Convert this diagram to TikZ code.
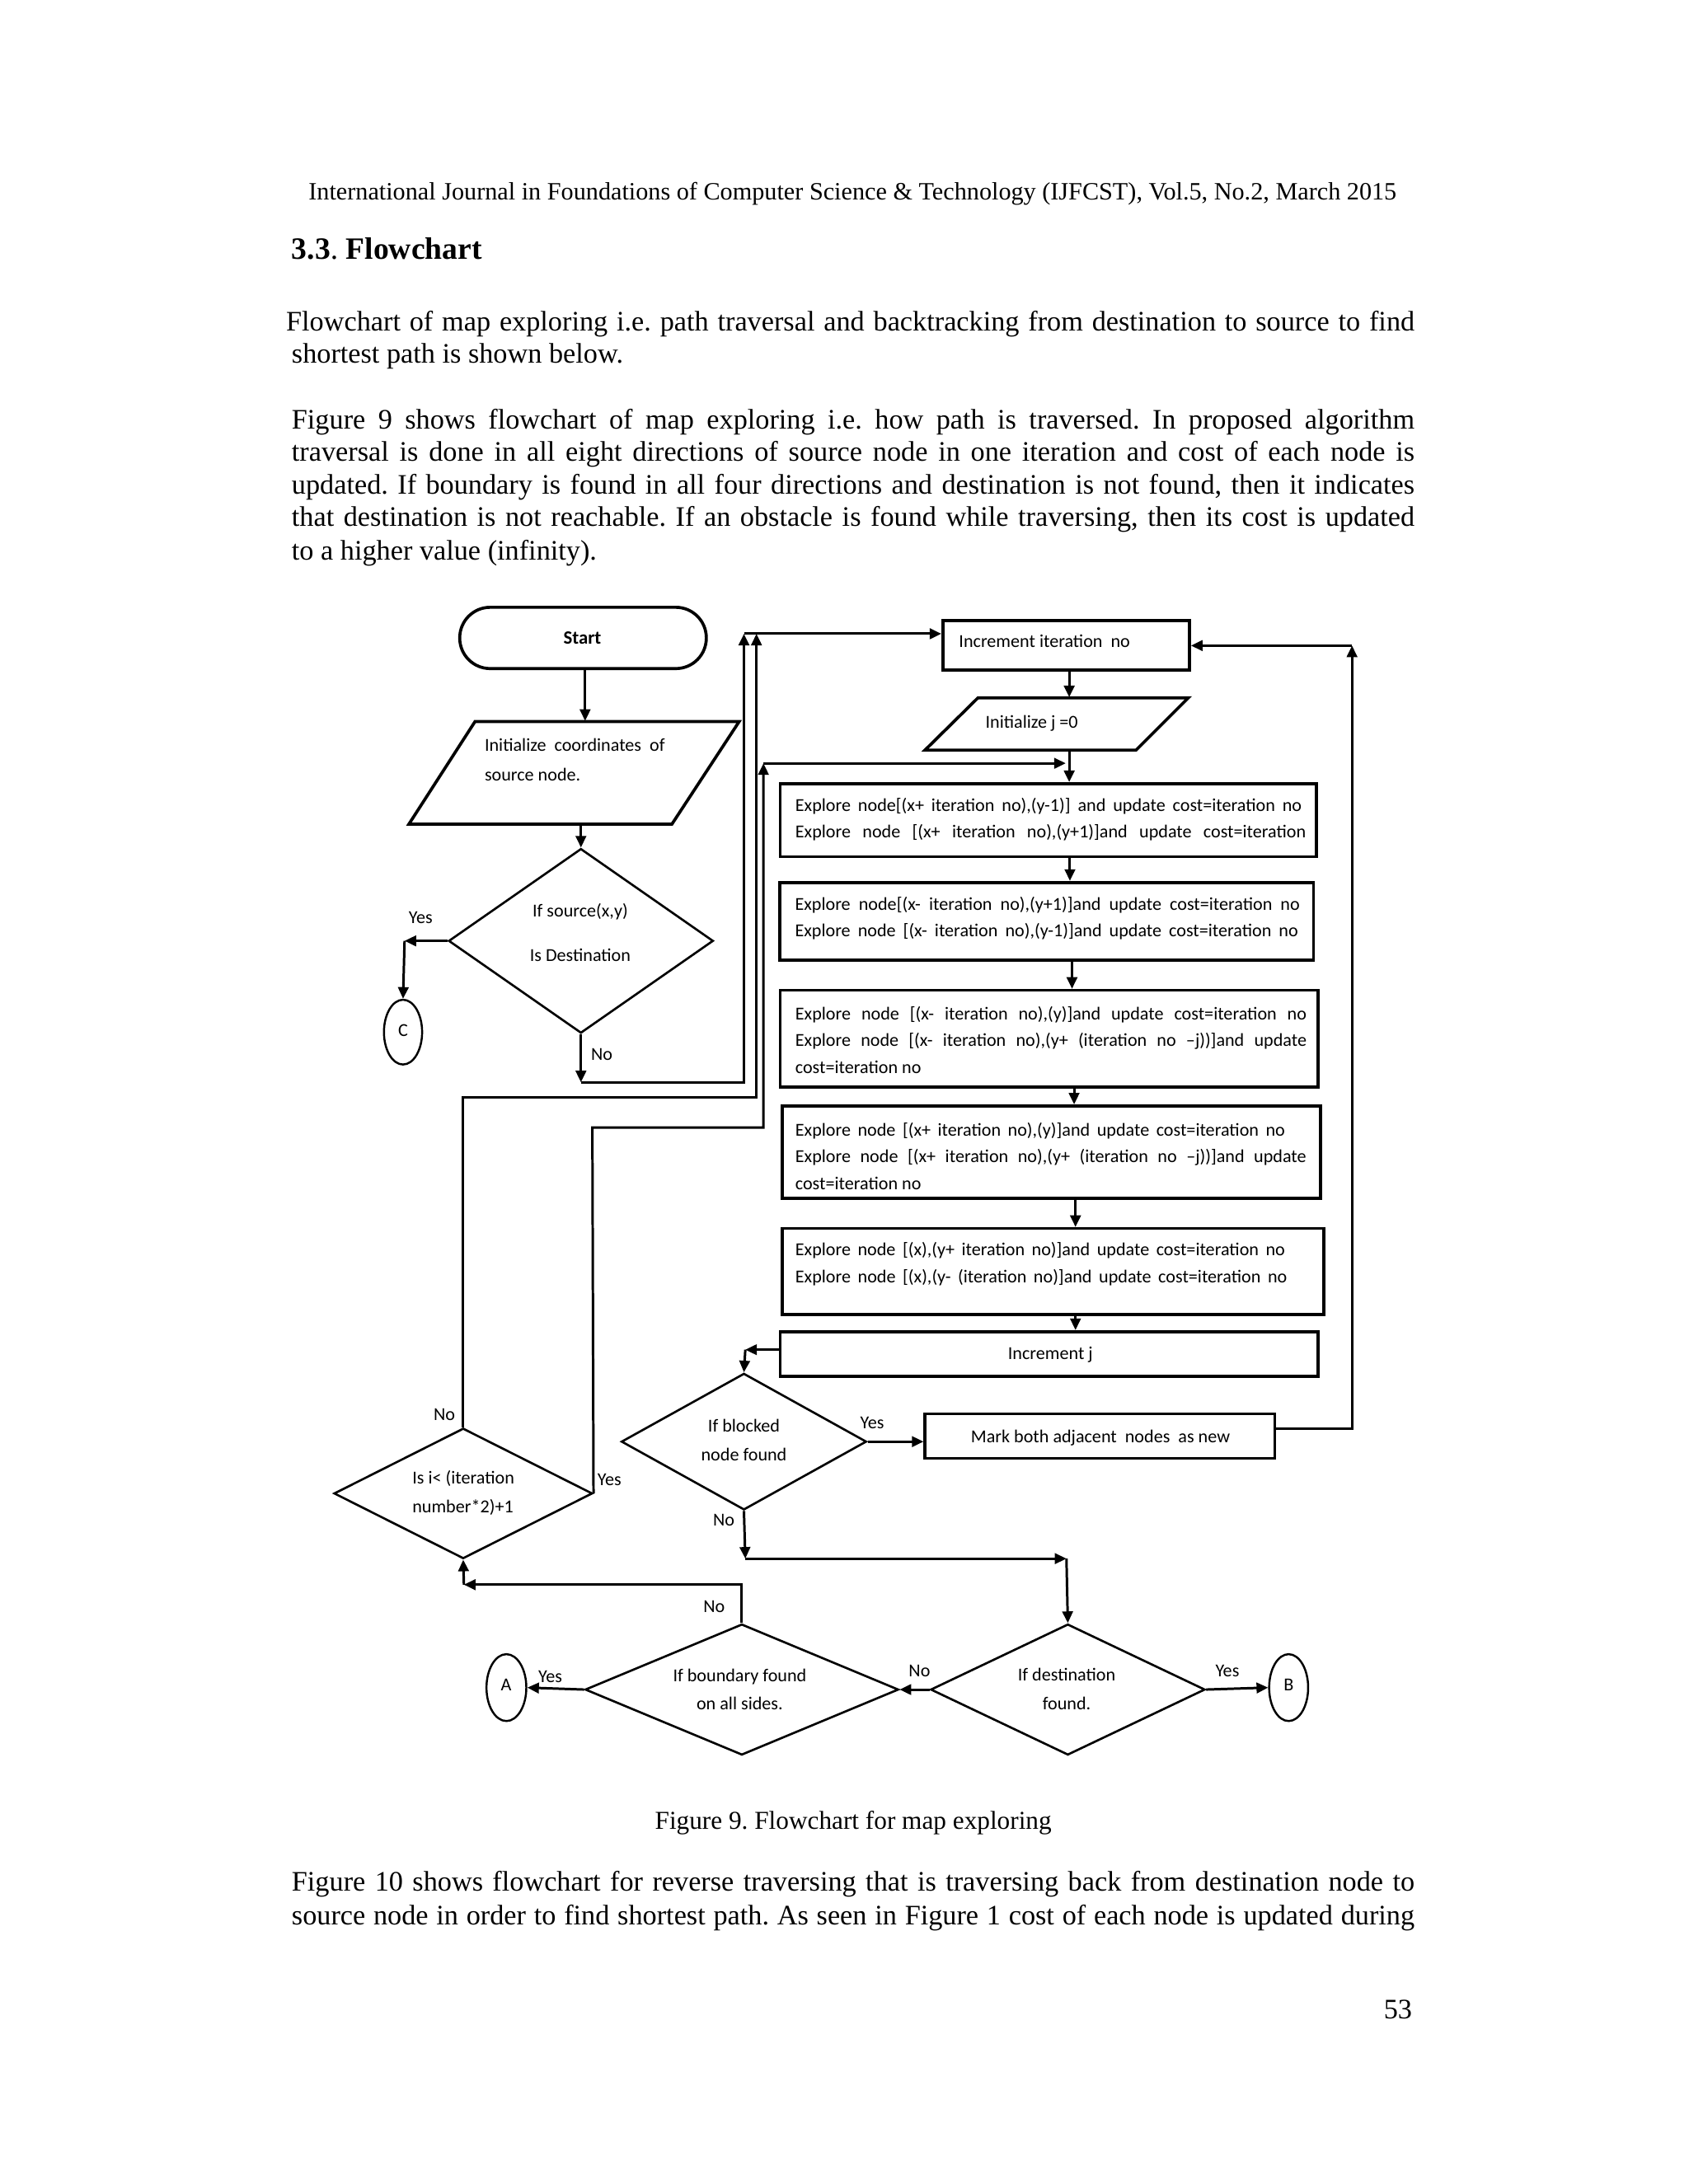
\documentclass[tikz,border=0pt]{standalone}
\usepackage{fontspec}
\setmainfont{Liberation Serif}
\newfontfamily\fcf{Carlito}
\usetikzlibrary{shapes.geometric,arrows.meta}
\frenchspacing
\newlength\jlwd
\newcommand{\jl}[2]{\pgfmathsetlength\jlwd{#1*0.0169cm}\makebox[\jlwd][s]{#2}}
\tikzset{
  sz/.style 2 args={minimum width=#1*0.0169cm, minimum height=#2*0.0169cm},
  box/.style={draw, rectangle, line width=1.05pt, inner sep=0pt},
  dia/.style={draw, diamond, line width=0.75pt, inner sep=1pt},
  ghost/.style={rectangle, inner sep=0pt},
  pgline/.style={line width=1.05pt, line join=miter},
  circ/.style={draw, ellipse, line width=0.7pt, inner sep=1pt},
  ftxt/.style={font=\fcf\fontsize{6.3}{9.3}\selectfont, inner sep=0pt, align=left},
  ctxt/.style={font=\fcf\fontsize{6.3}{9.8}\selectfont, inner sep=0pt, align=center},
  lab/.style={font=\fcf\fontsize{6.3}{7.5}\selectfont, inner sep=0pt, anchor=mid},
  arr/.style={line width=0.85pt, -{Triangle[length=4pt,width=3.6pt]}},
  bodyl/.style={font=\fontsize{9.75}{11.3}\selectfont, inner sep=0pt, anchor=mid west},
}
\begin{document}
\begin{tikzpicture}[x=0.0169cm, y=-0.0169cm]
\fill[white] (0,0) rectangle (1212,1568);
\useasboundingbox (0,0) rectangle (1212,1568);

% ---------- page text ----------
\node[bodyl, anchor=mid, font=\fontsize{8.6}{10}\selectfont] (hdr) at (612,138.5) {International Journal in Foundations of Computer Science \& Technology (IJFCST), Vol.5, No.2, March 2015};
\node[bodyl, font=\fontsize{10.7}{13}\selectfont] (sec) at (209,181.5) {\textbf{3.3}. \textbf{Flowchart}};
\node[bodyl] (p1a) at (205,233) {\jl{810}{Flowchart of map exploring i.e. path traversal and backtracking from destination to source to find}};
\node[bodyl] (p1b) at (209,256) {shortest path is shown below.};
\node[bodyl] (p2a) at (209,303) {\jl{806}{Figure 9 shows flowchart of map exploring i.e. how path is traversed. In proposed algorithm}};
\node[bodyl] (p2b) at (209,326) {\jl{806}{traversal is done in all eight directions of source node in one iteration and cost of each node is}};
\node[bodyl] (p2c) at (209,350) {\jl{806}{updated. If boundary is found in all four directions and destination is not found, then it indicates}};
\node[bodyl] (p2d) at (209,373) {\jl{806}{that destination is not reachable. If an obstacle is found while traversing, then its cost is updated}};
\node[bodyl] (p2e) at (209,397) {to a higher value (infinity).};
\node[bodyl, anchor=mid, font=\fontsize{8.9}{10.5}\selectfont] (cap) at (612.5,1308.5) {Figure 9. Flowchart for map exploring};
\node[bodyl] (p3a) at (209,1353) {\jl{806}{Figure 10 shows flowchart for reverse traversing that is traversing back from destination node to}};
\node[bodyl] (p3b) at (209,1377) {\jl{806}{source node in order to find shortest path. As seen in Figure 1 cost of each node is updated during}};
\node[bodyl, anchor=mid east] (pg) at (1014,1444.5) {53};

% ---------- flowchart shapes ----------
\node[box, rounded corners=0.37cm, sz={177}{44}] (start) at (418.5,458) {};
\node[lab, font=\fcf\bfseries\fontsize{6.5}{8}\selectfont] (startt) at (418,457.5) {Start};

% parallelogram 1 (anchor node + outline)
\node[ghost, sz={189.6}{73.7}] (p1) at (412,554.85) {};
\draw[pgline] (293.5,591.7) -- (341,518) -- (530.6,518) -- (482.3,591.7) -- cycle;
\node[ftxt, anchor=west, font=\fcf\fontsize{6.3}{10.2}\selectfont] (p1t) at (347.5,545.3) {Initialize\ \ coordinates\ \ of\\source node.};

\node[dia, sz={190}{132.5}] (d1) at (417,675.5) {};
\node[ctxt, font=\fcf\fontsize{6.3}{15.1}\selectfont] (d1t) at (416.5,669.5) {If source(x,y)\\Is Destination};

\node[circ, sz={27.4}{46.5}] (C) at (289.3,741) {};
\node[lab] (Ct) at (289.3,739) {C};

\node[box, sz={177}{35.6}] (ii) at (765.3,463.2) {};
\node[ftxt, anchor=mid west] (iit) at (688,460) {Increment iteration\ \ no};

% parallelogram 2
\node[ghost, sz={151}{37.5}] (p2) at (758.5,519.75) {};
\draw[pgline] (664,538.5) -- (702,501) -- (853,501) -- (815.5,538.5) -- cycle;
\node[lab] (p2t) at (740.6,517.8) {Initialize j =0};

\node[box, sz={385}{52.4}] (b1) at (752.5,588.8) {};
\node[ftxt, anchor=west] (b1t) at (570.5,588.3) {\jl{363.5}{Explore node[(x+ iteration no),(y-1)] and update cost=iteration no}\\\jl{366.5}{Explore node [(x+ iteration no),(y+1)]and update cost=iteration}};

\node[box, sz={383}{55.9}] (b2) at (751.3,661.45) {};
\node[ftxt, anchor=west] (b2t) at (570.3,659.3) {\jl{362.3}{Explore node[(x- iteration no),(y+1)]and update cost=iteration no}\\\jl{361.1}{Explore node [(x- iteration no),(y-1)]and update cost=iteration no}};

\node[box, sz={386}{69.5}] (b3) at (753,745.75) {};
\node[ftxt, anchor=west] (b3t) at (570.5,746.6) {\jl{367}{Explore node [(x- iteration no),(y)]and update cost=iteration no}\\\jl{367}{Explore node [(x- iteration no),(y+ (iteration no –j))]and update}\\cost=iteration no};

\node[box, sz={386.2}{66.4}] (b4) at (754.7,827.2) {};
\node[ftxt, anchor=west] (b4t) at (570.5,830) {\jl{351.5}{Explore node [(x+ iteration no),(y)]and update cost=iteration no}\\\jl{366.8}{Explore node [(x+ iteration no),(y+ (iteration no –j))]and update}\\cost=iteration no};

\node[box, sz={388.7}{61.8}] (b5) at (755.95,912.9) {};
\node[ftxt, anchor=west] (b5t) at (570.5,907.5) {\jl{351.5}{Explore node [(x),(y+ iteration no)]and update cost=iteration no}\\\jl{353}{Explore node [(x),(y- (iteration no)]and update cost=iteration no}};

\node[box, sz={386}{32}] (ij) at (753,972) {};
\node[lab] (ijt) at (754,971) {Increment j};

\node[dia, sz={176}{98}] (dB) at (534,1035) {};
\node[ctxt] (dBt) at (534,1034) {If blocked\\node found};

\node[box, sz={251}{32}] (mk) at (789.5,1031) {};
\node[lab] (mkt) at (789.9,1031.2) {Mark both adjacent\ \ nodes\ \ as new};

\node[dia, sz={185.5}{93.6}] (dI) at (332.5,1072.2) {};
\node[ftxt, anchor=west, font=\fcf\fontsize{6.3}{9.8}\selectfont] (dIt) at (295.6,1071.8) {Is i< (iteration\\number*2)+1};

\node[dia, sz={225}{94}] (dBd) at (532.5,1213) {};
\node[ctxt] (dBdt) at (531,1212.8) {If boundary found\\on all sides.};

\node[dia, sz={197}{94}] (dD) at (766.5,1213) {};
\node[ctxt] (dDt) at (765.7,1212.5) {If destination\\found.};

\node[circ, sz={28.6}{48}] (A) at (363.5,1211.6) {};
\node[lab] (At) at (363.3,1209) {A};
\node[circ, sz={28}{48}] (B) at (925,1211.6) {};
\node[lab] (Bt) at (925,1209) {B};

% ---------- labels ----------
\node[lab] (l1) at (302,658) {Yes};
\node[lab] (l2) at (432,756.7) {No};
\node[lab] (l3) at (319,1015) {No};
\node[lab] (l4) at (437.5,1061.6) {Yes};
\node[lab] (l5) at (626,1021) {Yes};
\node[lab] (l6) at (519.5,1091) {No};
\node[lab] (l7) at (512.6,1153) {No};
\node[lab] (l8) at (660,1199) {No};
\node[lab] (l9) at (881,1199) {Yes};
\node[lab] (l10) at (395,1203) {Yes};

% ---------- coordinates ----------
\coordinate (k420) at (420,0);
\coordinate (k767) at (767.5,0);
\coordinate (k768) at (768,0);
\coordinate (k769) at (769.5,0);
\coordinate (k771) at (771,0);
\coordinate (k772) at (772,0);
\coordinate (cY) at (290.4,675.5);
\coordinate (cN1) at (417,777);
\coordinate (cN2) at (534,777);
\coordinate (cT1) at (534,455);
\coordinate (cI1) at (332.5,788);
\coordinate (cI2) at (543,788);
\coordinate (cI3) at (543,455);
\coordinate (cY1) at (425.2,809.5);
\coordinate (cY2) at (548,809.5);
\coordinate (cY3) at (548,548);
\coordinate (cY4) at (765,548);
\coordinate (cJ1) at (560,969);
\coordinate (cJ2) at (535,969);
\coordinate (cM1) at (914.5,1025.5);
\coordinate (cM2) at (970.5,1025.5);
\coordinate (cM3) at (970.5,463.5);
\coordinate (cB1) at (535,1119);
\coordinate (cB2) at (765.5,1119);
\coordinate (cD1) at (532.5,1137.7);
\coordinate (cD2) at (333,1137.7);

% ---------- connectors ----------
\draw[arr] (start.south -| k420) -- (p1.north -| k420);
\draw[arr] (p1.south -| d1.north) -- (d1.north);
\draw[arr] (d1.west) -- (cY);
\draw[arr] (cY) -- (C.north);
\draw[arr] (d1.south) -- (cN1);
\draw[arr] (cN1) -- (cN2) -- (cT1);
\draw[arr] (cT1) -- (ii.west |- cT1);
\draw[arr] (dI.north) -- (cI1) -- (cI2) -- (cI3);
\draw[arr] (dI.east) -- (cY1) -- (cY2) -- (cY3);
\draw[arr] (cY3) -- (cY4);
\draw[arr] (ii.south -| k767) -- (p2.north -| k767);
\draw[arr] (p2.south -| k767) -- (b1.north -| k767);
\draw[arr] (b1.south -| k768) -- (b2.north -| k768);
\draw[arr] (b2.south -| k769) -- (b3.north -| k769);
\draw[arr] (b3.south -| k771) -- (b4.north -| k771);
\draw[arr] (b4.south -| k772) -- (b5.north -| k772);
\draw[arr] (b5.south -| k772) -- (ij.north -| k772);
\draw[arr] (ij.west |- cJ1) -- (cJ2);
\draw[arr] (cJ2) -- (dB.north);
\draw[arr] (dB.east) -- (mk.west |- dB.east);
\draw[arr] (mk.east |- cM1) -- (cM2) -- (cM3);
\draw[arr] (cM3) -- (ii.east |- cM3);
\draw[arr] (dB.south) -- (cB1);
\draw[arr] (cB1) -- (cB2);
\draw[arr] (cB2) -- (dD.north);
\draw[arr] (dD.east) -- (B.west);
\draw[arr] (dD.west) -- (dBd.east);
\draw[arr] (dBd.west) -- (A.east);
\draw[arr] (dBd.north) -- (cD1) -- (cD2);
\draw[arr] (cD2) -- (dI.south);
\end{tikzpicture}
\end{document}
